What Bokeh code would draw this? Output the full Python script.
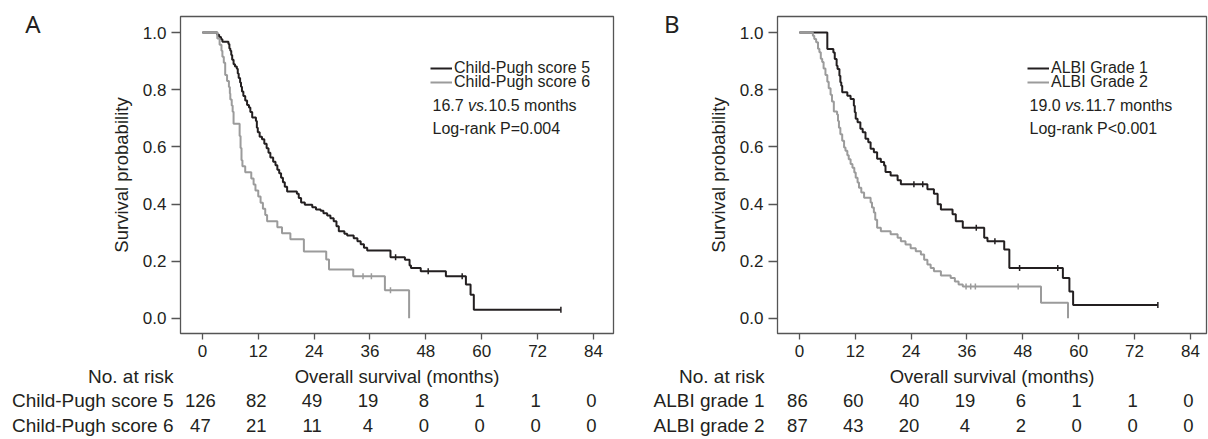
import math
from bokeh.plotting import figure
from bokeh.models import (Range1d, FixedTicker, Label, LinearAxis, Legend, LegendItem,
                          PrintfTickFormatter)
from bokeh.layouts import row, column
from bokeh.core.properties import value
from bokeh.embed import file_html
from bokeh.resources import INLINE

# ---------------- data ----------------
x_ticks = [0, 12, 24, 36, 48, 60, 72, 84]
y_ticks = [0.0, 0.2, 0.4, 0.6, 0.8, 1.0]

# Panel A: Child-Pugh score 5
cp5_t = [0, 3.2, 3.6, 4.0, 4.3, 5.6, 5.8, 6.0, 6.2, 6.4, 6.7, 7.0, 7.4, 7.6, 7.8, 8.1, 8.3, 8.5,
         8.8, 9.2, 9.6, 10.0, 10.3, 10.7, 11.5, 11.7, 11.9, 12.3, 12.8, 13.3, 13.8, 14.2, 14.6,
         15.2, 15.7, 16.1, 16.5, 16.9, 17.3, 17.7, 18.2, 20.3, 20.7, 21.2, 22.0, 23.6, 24.4,
         25.4, 26.0, 26.8, 27.5, 28.2, 28.8, 29.3, 30.5, 31.1, 32.5, 33.3, 34.0, 34.7, 35.4,
         40.4, 43.5, 44.5, 44.8, 46.9, 52.3, 56.6, 57.6, 58.3, 77.0]
cp5_s = [1.0, 0.992, 0.984, 0.976, 0.968, 0.960, 0.944, 0.936, 0.921, 0.905, 0.889, 0.881, 0.873,
         0.857, 0.841, 0.825, 0.810, 0.794, 0.778, 0.762, 0.746, 0.738, 0.722, 0.703, 0.690,
         0.667, 0.651, 0.635, 0.627, 0.611, 0.595, 0.579, 0.563, 0.548, 0.536, 0.520, 0.508,
         0.492, 0.476, 0.460, 0.444, 0.436, 0.421, 0.405, 0.397, 0.389, 0.381, 0.376, 0.368,
         0.360, 0.350, 0.340, 0.322, 0.305, 0.296, 0.290, 0.280, 0.270, 0.259, 0.247, 0.237,
         0.214, 0.205, 0.185, 0.176, 0.165, 0.147, 0.118, 0.083, 0.030, 0.030]
cp5_cens_t = [41.5, 48.5, 55.8, 77.0]
cp5_cens_s = [0.214, 0.165, 0.147, 0.030]

# Panel A: Child-Pugh score 6
cp6_t = [0, 3.2, 3.7, 4.1, 4.3, 4.6, 4.9, 5.3, 5.7, 5.9, 6.0, 6.3, 6.5, 6.7, 8.0, 8.2, 8.4, 8.6,
         9.2, 10.5, 11.0, 11.4, 12.0, 12.5, 13.0, 13.5, 13.9, 16.1, 17.1, 18.9, 21.8, 26.6,
         27.2, 32.4, 39.2, 44.4]
cp6_s = [1.0, 0.979, 0.957, 0.936, 0.915, 0.894, 0.851, 0.830, 0.809, 0.787, 0.766, 0.745, 0.723,
         0.681, 0.638, 0.596, 0.553, 0.532, 0.511, 0.489, 0.468, 0.447, 0.426, 0.404, 0.383,
         0.362, 0.340, 0.319, 0.298, 0.277, 0.234, 0.206, 0.171, 0.147, 0.098, 0.0]
cp6_cens_t = [34.5, 36.3, 40.4]
cp6_cens_s = [0.147, 0.147, 0.098]

# Panel B: ALBI grade 1
albi1_t = [0, 6.0, 7.3, 7.6, 8.0, 8.2, 8.6, 8.8, 9.0, 9.2, 10.3, 11.0, 11.7, 11.9, 12.1, 12.5,
           13.1, 13.6, 14.2, 14.8, 15.3, 16.0, 16.7, 17.5, 18.2, 18.5, 19.6, 21.1, 21.8, 27.5,
           28.9, 29.7, 30.4, 32.9, 33.6, 35.1, 39.7, 40.4, 44.0, 45.1, 56.6, 58.0, 58.8, 77.0]
albi1_s = [1.0, 0.942, 0.930, 0.907, 0.884, 0.872, 0.849, 0.826, 0.814, 0.791, 0.779, 0.767,
           0.744, 0.721, 0.698, 0.686, 0.663, 0.651, 0.628, 0.616, 0.593, 0.581, 0.558, 0.547,
           0.535, 0.512, 0.500, 0.483, 0.469, 0.452, 0.436, 0.399, 0.381, 0.364, 0.340, 0.317,
           0.282, 0.270, 0.241, 0.176, 0.141, 0.094, 0.047, 0.047]
albi1_cens_t = [24.6, 26.5, 38.0, 42.0, 47.3, 55.5, 77.0]
albi1_cens_s = [0.469, 0.469, 0.317, 0.270, 0.176, 0.176, 0.047]

# Panel B: ALBI grade 2
albi2_t = [0, 2.9, 3.2, 3.6, 4.0, 4.3, 4.6, 4.9, 5.2, 5.6, 6.0, 6.3, 6.7, 7.0, 7.4, 8.1, 8.3, 8.5,
           8.8, 9.2, 9.6, 9.9, 10.3, 10.6, 11.0, 11.4, 11.8, 12.1, 12.5, 12.8, 13.3, 13.9, 15.3,
           15.6, 16.0, 16.3, 16.7, 17.5, 19.6, 21.1, 21.8, 22.8, 23.9, 25.0, 26.1, 26.8, 27.5,
           28.2, 28.9, 30.4, 32.5, 33.4, 34.2, 35.1, 51.9, 57.7]
albi2_s = [1.0, 0.989, 0.977, 0.966, 0.943, 0.931, 0.908, 0.897, 0.874, 0.851, 0.828, 0.805,
           0.782, 0.759, 0.724, 0.713, 0.690, 0.667, 0.644, 0.621, 0.598, 0.586, 0.571, 0.557,
           0.540, 0.527, 0.510, 0.492, 0.475, 0.457, 0.440, 0.422, 0.405, 0.388, 0.370, 0.345,
           0.317, 0.305, 0.294, 0.282, 0.270, 0.258, 0.245, 0.235, 0.223, 0.205, 0.188, 0.176,
           0.165, 0.150, 0.141, 0.129, 0.118, 0.111, 0.055, 0.0]
albi2_cens_t = [35.8, 36.8, 37.8, 47.0]
albi2_cens_s = [0.111, 0.111, 0.111, 0.111]

# numbers at risk
cp5_risk = [126, 82, 49, 19, 8, 1, 1, 0]
cp6_risk = [47, 21, 11, 4, 0, 0, 0, 0]
albi1_risk = [86, 60, 40, 19, 6, 1, 1, 0]
albi2_risk = [87, 43, 20, 4, 2, 0, 0, 0]

# ---------------- style ----------------
FONT = "Liberation Sans"
TXT = "#231f20"
DARK = "#231f20"
GRAY = "#9b9b9b"
FRAME = "#555555"
RISK_FS = "18.5px"
RISK_LAB_FS = "19px"


def make_panel(letter, names, row_names, series, risks, stat_num, stat_rest, pval,
               width, border_left, border_right, x_end, letter_standoff, rowlab_standoff):
    xr = Range1d(-4.7, x_end)
    p = figure(width=width, height=365, output_backend="svg", toolbar_location=None,
               x_range=xr, y_range=Range1d(-0.053, 1.056),
               min_border_left=border_left, min_border_right=border_right,
               min_border_top=16, min_border_bottom=32)
    p.background_fill_color = "white"
    p.border_fill_color = "white"
    p.outline_line_color = FRAME
    p.outline_line_width = 1.3
    p.xgrid.visible = False
    p.ygrid.visible = False

    for ax in (p.xaxis[0], p.yaxis[0]):
        ax.axis_line_color = None
        ax.major_tick_line_color = FRAME
        ax.major_tick_line_width = 1.3
        ax.minor_tick_line_color = None
        ax.major_tick_in = 0
        ax.major_label_text_font = FONT
        ax.major_label_text_font_size = "17px"
        ax.major_label_text_color = TXT
        ax.axis_label_text_font = FONT
        ax.axis_label_text_font_size = "18.5px"
        ax.axis_label_text_font_style = "normal"
        ax.axis_label_text_color = TXT

    p.xaxis.ticker = FixedTicker(ticks=x_ticks)
    p.xaxis.major_tick_out = 6
    p.xaxis.major_label_standoff = 5

    p.yaxis.ticker = FixedTicker(ticks=y_ticks)
    p.yaxis.formatter = PrintfTickFormatter(format="%.1f")
    p.yaxis.major_tick_out = 9
    p.yaxis.major_label_standoff = 5
    p.yaxis.axis_label = "Survival probability"
    p.yaxis.axis_label_standoff = 8

    # panel letter, as the only label of an outer left axis
    lax = LinearAxis(ticker=FixedTicker(ticks=[1.03125]),
                     major_label_overrides={1.03125: letter},
                     axis_line_color=None, major_tick_line_color=None,
                     minor_tick_line_color=None, major_tick_out=0, major_tick_in=0,
                     major_label_standoff=letter_standoff,
                     major_label_text_font="Noto Sans", major_label_text_font_size="24px",
                     major_label_text_color=TXT)
    p.add_layout(lax, "left")

    renderers = []
    for (t, s, ct, cs), color in zip(series, [DARK, GRAY]):
        r = p.step(t, s, mode="after", line_color=color, line_width=2)
        p.scatter(ct, cs, marker="dash", angle=math.pi / 2, size=6,
                  line_color=color, line_width=1.5)
        renderers.append(r)

    # legend: one single-row legend per curve
    for i, (nm, r) in enumerate(zip(names, renderers)):
        lg = Legend(items=[LegendItem(label=nm, renderers=[r])],
                    location=(250, 256 - 13.5 * i), padding=0, margin=0, spacing=0,
                    glyph_width=22, glyph_height=12, label_height=12, label_standoff=2,
                    label_text_font=FONT, label_text_font_size="16px",
                    label_text_color=TXT, border_line_color=None,
                    background_fill_alpha=0)
        p.add_layout(lg)

    common = dict(x_units="screen", y_units="screen", text_font=FONT,
                  text_font_size="16px", text_color=TXT, text_baseline="middle")
    p.add_layout(Label(x=252, y=228, text=stat_num + " ", **common))
    p.add_layout(Label(x=252 + 35.6, y=228, text="vs.", text_font_style="italic", **common))
    p.add_layout(Label(x=252 + 56.0, y=228, text=stat_rest, **common))
    p.add_layout(Label(x=252, y=205, text=pval, **common))

    # ---- risk table (own figure, same x range) ----
    q = figure(width=width, height=74, output_backend="svg", toolbar_location=None,
               x_range=xr, y_range=Range1d(-0.569, 2.439),
               min_border_left=border_left, min_border_right=border_right,
               min_border_top=0, min_border_bottom=0, x_axis_location=None)
    q.outline_line_color = None
    q.background_fill_color = "white"
    q.border_fill_color = "white"
    q.xgrid.visible = False
    q.ygrid.visible = False
    q.yaxis.ticker = FixedTicker(ticks=[0, 1, 2])
    q.yaxis.major_label_overrides = {2: "No. at risk", 1: row_names[0], 0: row_names[1]}
    q.yaxis.axis_line_color = None
    q.yaxis.major_tick_line_color = None
    q.yaxis.minor_tick_line_color = None
    q.yaxis.major_tick_out = 0
    q.yaxis.major_tick_in = 0
    q.yaxis.major_label_standoff = rowlab_standoff
    q.yaxis.major_label_text_font = FONT
    q.yaxis.major_label_text_font_size = RISK_LAB_FS
    q.yaxis.major_label_text_color = TXT

    tstyle = dict(text_font=value(FONT), text_color=TXT,
                  text_baseline="middle", text_align="center")
    q.text(x=[(xr.start + xr.end) / 2], y=[2], text=["Overall survival (months)"],
           text_font_size=value("18.5px"), **tstyle)
    for j, rk in enumerate(risks):
        q.text(x=x_ticks, y=[1 - j] * len(x_ticks), text=[str(v) for v in rk],
               x_offset=-2, text_font_size=value(RISK_FS), **tstyle)
    return column(p, q, spacing=0)


pA = make_panel("A", ["Child-Pugh score 5", "Child-Pugh score 6"],
                ["Child-Pugh score 5", "Child-Pugh score 6"],
                [(cp5_t, cp5_s, cp5_cens_t, cp5_cens_s), (cp6_t, cp6_s, cp6_cens_t, cp6_cens_s)],
                [cp5_risk, cp6_risk], "16.7", "10.5 months", "Log-rank P=0.004",
                width=630, border_left=180, border_right=17, x_end=88.3,
                letter_standoff=67, rowlab_standoff=7)
pB = make_panel("B", ["ALBI Grade 1", "ALBI Grade 2"], ["ALBI grade 1", "ALBI grade 2"],
                [(albi1_t, albi1_s, albi1_cens_t, albi1_cens_s),
                 (albi2_t, albi2_s, albi2_cens_t, albi2_cens_s)],
                [albi1_risk, albi2_risk], "19.0", "11.7 months", "Log-rank P<0.001",
                width=578, border_left=147, border_right=2, x_end=87.45,
                letter_standoff=25, rowlab_standoff=13)

layout = row(pA, pB, spacing=0)
open("out.html", "w").write(file_html(layout, INLINE))
